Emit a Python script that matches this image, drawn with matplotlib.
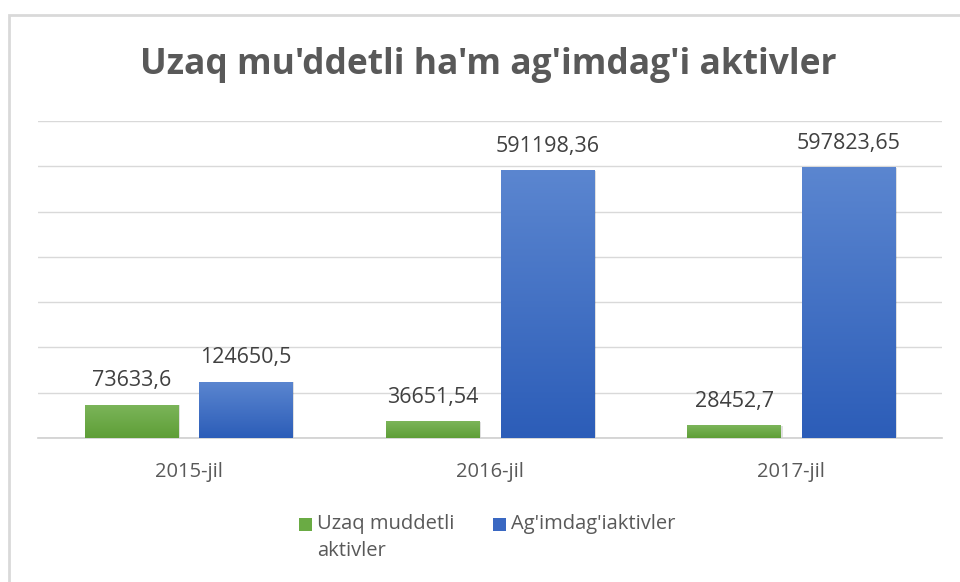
import numpy as np
import matplotlib.pyplot as plt
from matplotlib.patches import Rectangle
from matplotlib.colors import LinearSegmentedColormap

years = ['2015-jil', '2016-jil', '2017-jil']
uzaq = [73633.6, 36651.54, 28452.7]
agimdagi = [124650.5, 591198.36, 597823.65]
uzaq_lbl = ['73633,6', '36651,54', '28452,7']
agimdagi_lbl = ['124650,5', '591198,36', '597823,65']
series_names = ['Uzaq muddetli\naktivler', "Ag'imdag'iaktivler"]
series_colors = ['#6aab44', '#3a68c2']

plt.rcParams['font.family'] = ['Open Sans', 'DejaVu Sans']

fig = plt.figure(figsize=(9.6, 5.82), dpi=100)
# chart border (Excel-like frame, runs off right/bottom)
fig.patches.append(Rectangle((9/960, -0.05), 1.1, 1 - 15/582 + 0.05, transform=fig.transFigure,
                             fill=False, edgecolor='#d9d9d9', linewidth=2))

ax = fig.add_axes([38/960, 1-438/582, 904/960, (438-121)/582])
x = np.arange(len(years))
w = 0.31
off = 0.19

green = LinearSegmentedColormap.from_list('g', ['#5e9e37', '#7cb55a'])
blue = LinearSegmentedColormap.from_list('b', ['#2c5db8', '#5b86d0'])

def grad_bars(xs, vals, cmap):
    bars = ax.bar(xs, vals, w, color='none', zorder=3)
    grad = np.linspace(0, 1, 256).reshape(-1, 1)
    for b in bars:
        x0, y0 = b.get_x(), b.get_y()
        im = ax.imshow(grad, cmap=cmap, origin='lower', aspect='auto',
                       extent=[x0, x0 + b.get_width(), y0, y0 + b.get_height()], zorder=3)
        im.set_clip_path(b)
        # soft shadow
        ax.add_patch(Rectangle((x0 + 0.006, y0), b.get_width(), b.get_height() - 1500,
                               facecolor='#000000', alpha=0.12, zorder=2.5, linewidth=0))
    return bars

b1 = grad_bars(x - off, uzaq, green)
b2 = grad_bars(x + off, agimdagi, blue)

for xs, vals, lbls in [(x - off, uzaq, uzaq_lbl), (x + off, agimdagi, agimdagi_lbl)]:
    for xi, v, t in zip(xs, vals, lbls):
        ax.annotate(t, (xi, v), xytext=(0, 9.5), textcoords='offset points',
                    ha='center', va='bottom', fontsize=15.5, color='#404040')

ax.set_xlim(-0.5, 2.5)
ax.set_ylim(0, 700000)
ax.set_yticks(np.arange(0, 700001, 100000))
ax.set_yticklabels([])
ax.tick_params(axis='y', length=0)
ax.set_xticks(x)
ax.set_xticklabels(years, fontsize=14.5, color='#595959')
ax.tick_params(axis='x', length=0, pad=17)
ax.grid(axis='y', color='#d9d9d9', linewidth=1, zorder=0)
ax.set_axisbelow(True)
for s in ['top', 'right', 'left']:
    ax.spines[s].set_visible(False)
ax.spines['bottom'].set_color('#cfcfcf')
ax.spines['bottom'].set_linewidth(1.2)

fig.text(0.5 + 8/960, 1-65/582, "Uzaq mu'ddetli ha'm ag'imdag'i aktivler", ha='center', va='center',
         fontsize=25.5, fontweight='bold', color='#595959')

# legend drawn by hand so the marker sits on the first text line
leg_x = [299, 493]
for lx, name, col in zip(leg_x, series_names, series_colors):
    fig.patches.append(Rectangle((lx/960, 1-531/582), 13/960, 13/582, transform=fig.transFigure,
                                 facecolor=col, edgecolor='none'))
    fig.text((lx + 18)/960, 1-514/582, name, ha='left', va='top', fontsize=14.5,
             color='#595959', linespacing=1.45)

fig.savefig('out.png', dpi=100)
